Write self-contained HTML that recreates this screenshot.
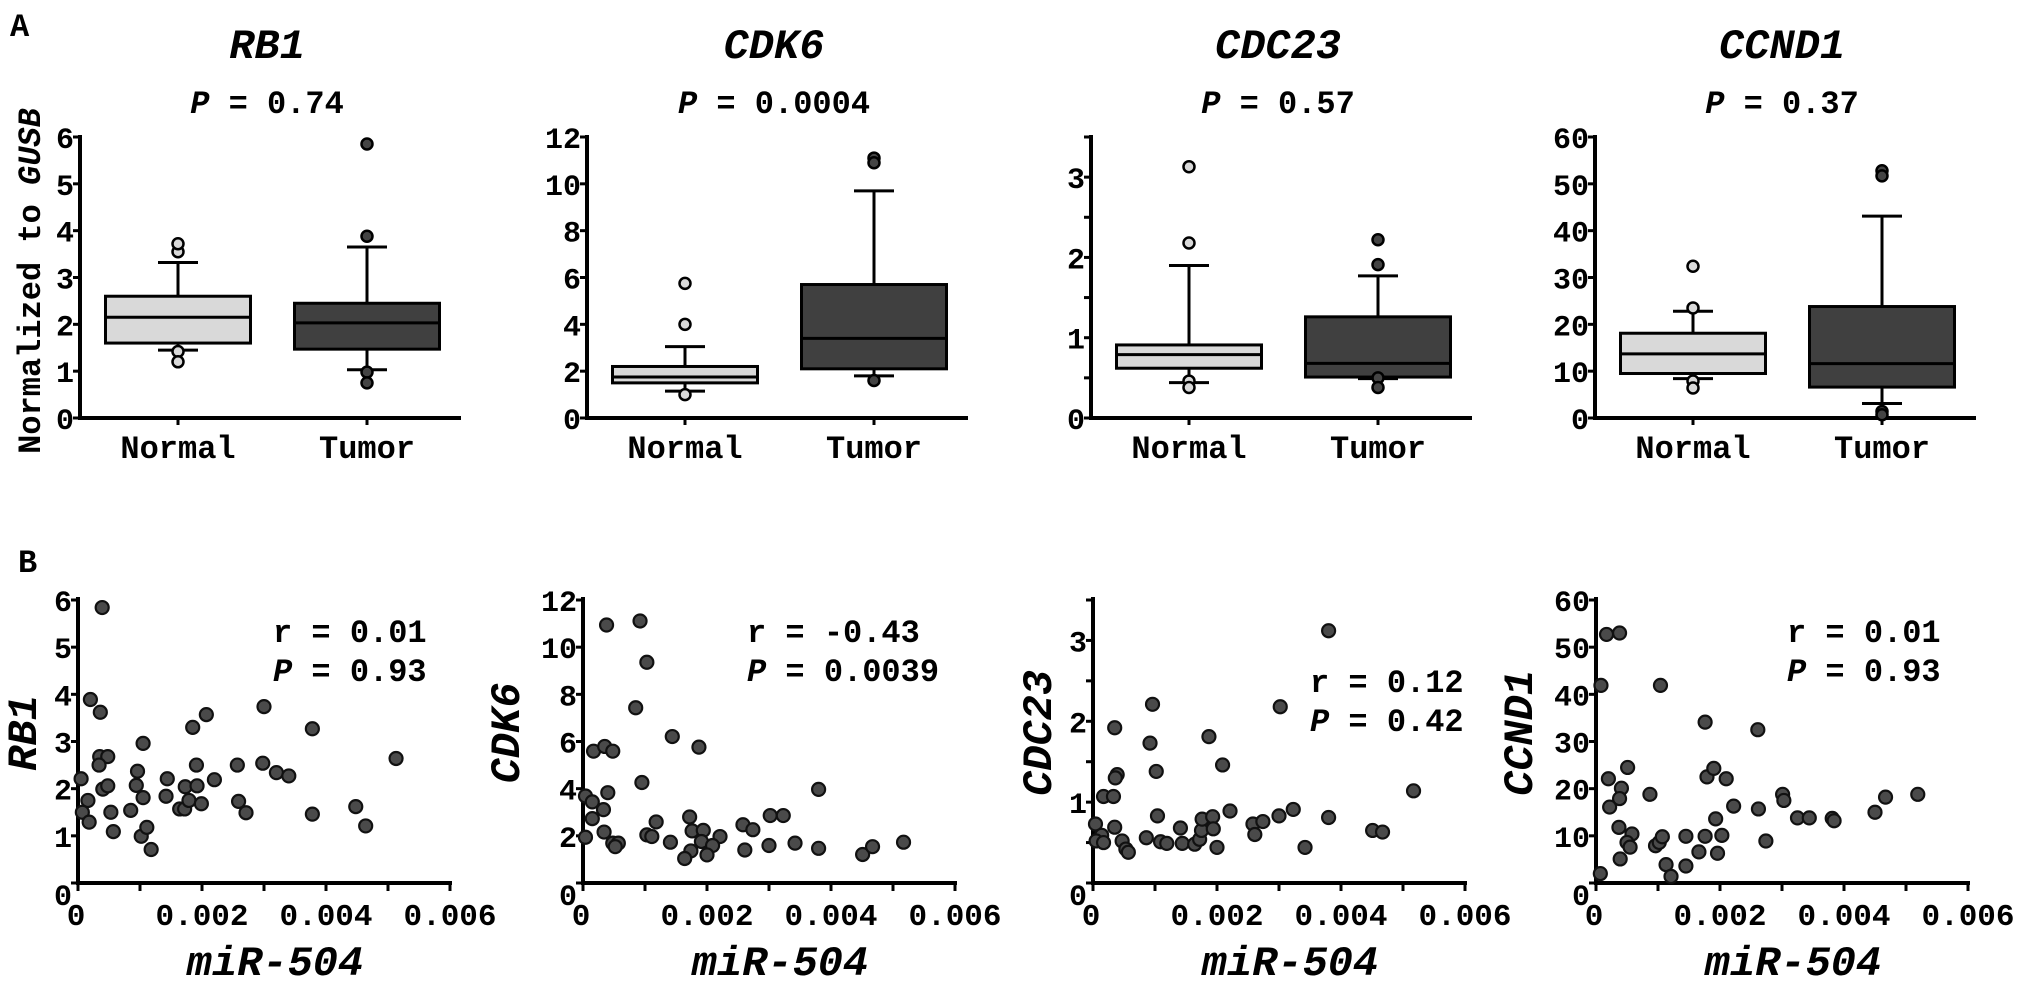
<!DOCTYPE html>
<html><head><meta charset="utf-8"><style>
html,body{margin:0;padding:0;background:#fff;}
svg{display:block;}
text{font-family:"Liberation Mono","DejaVu Sans Mono",monospace;font-weight:bold;fill:#000;}
</style></head><body>
<svg id="fig" width="2031" height="992" viewBox="0 0 2031 992" xmlns="http://www.w3.org/2000/svg">
<text x="10" y="36" font-size="32">A</text>
<text x="18" y="572" font-size="32">B</text>
</svg>
<script>
const genes = ["RB1","CDK6","CDC23","CCND1"];
const boxP = ["0.74","0.0004","0.57","0.37"];
const yMaxA = [6,12,3.5,60];
const yTicksA = [[0,1,2,3,4,5,6],[0,2,4,6,8,10,12],[0,1,2,3],[0,10,20,30,40,50,60]];
const yMinorA = [[],[],[0.5,1.5,2.5,3.5],[]];
const normalQ1 = [1.6,1.5,0.62,9.5];
const normalMed = [2.15,1.75,0.79,13.7];
const normalQ3 = [2.6,2.2,0.91,18.1];
const normalLo = [1.45,1.15,0.44,8.4];
const normalHi = [3.32,3.05,1.9,22.8];
const normalOut = [[3.55,3.72,1.42,1.2],[5.75,4.0,1.0],[3.13,2.18,0.46,0.38],[32.4,23.5,7.9,6.4]];
const tumorQ1 = [1.47,2.1,0.51,6.6];
const tumorMed = [2.03,3.4,0.68,11.6];
const tumorQ3 = [2.45,5.7,1.26,23.8];
const tumorLo = [1.03,1.8,0.49,3.1];
const tumorHi = [3.65,9.7,1.77,43.1];
const tumorOut = [[5.85,3.88,0.98,0.75],[11.1,10.9,1.6],[2.22,1.91,0.5,0.38],[52.8,51.7,1.4,0.7]];

const xTicksB = [0,0.001,0.002,0.003,0.004,0.005,0.006];
const xTickLabelsB = ["0","","0.002","","0.004","","0.006"];
const yMaxB = [6,12,3.5,60];
const yTicksB = yTicksA;
const corrR = ["0.01","-0.43","0.12","0.01"];
const corrP = ["0.93","0.0039","0.42","0.93"];
const rb1X = [.00039,.0002,.00036,.00035,.00048,.00034,.00005,.0004,.00048,.00016,.00007,.00018,.00053,.00057,.00085,.00094,.00096,.00105,.00105,.00102,.00111,.00118,.00144,.00142,.00164,.00172,.00173,.00179,.00191,.00192,.00199,.00185,.00207,.0022,.00257,.00259,.00271,.00298,.003,.0032,.0034,.00378,.00378,.00448,.00464,.00513];
const rb1Y = [5.84,3.89,3.62,2.68,2.68,2.5,2.21,1.99,2.06,1.75,1.5,1.29,1.5,1.09,1.54,2.07,2.37,2.96,1.81,0.99,1.18,0.71,2.21,1.84,1.57,1.57,2.04,1.75,2.5,2.06,1.68,3.3,3.57,2.19,2.5,1.73,1.49,2.54,3.74,2.34,2.27,3.27,1.46,1.62,1.21,2.64];
const cdk6X = [.00038,.00092,.00103,.00085,.00144,.00187,.00017,.00035,.00048,.00095,.00004,.00015,.0004,.00033,.00015,.00034,.00004,.00048,.00057,.00052,.00103,.00111,.00118,.00141,.00172,.00176,.00194,.00191,.00221,.00209,.00174,.00164,.002,.00258,.00274,.00261,.00302,.00323,.003,.00342,.0038,.0038,.00451,.00467,.00517];
const cdk6Y = [10.94,11.11,9.36,7.43,6.21,5.76,5.59,5.79,5.59,4.26,3.69,3.44,3.83,3.11,2.73,2.16,1.94,1.69,1.69,1.54,2.04,1.97,2.59,1.73,2.8,2.21,2.23,1.76,1.97,1.59,1.36,1.04,1.19,2.47,2.26,1.4,2.86,2.86,1.59,1.69,3.97,1.47,1.21,1.54,1.73];
const cdc23X = [.0038,.00302,.00096,.00035,.00187,.00092,.00209,.00102,.00039,.00036,.00017,.00033,.00004,.00014,.00005,.00017,.00035,.00047,.00053,.00057,.00086,.00104,.00109,.00119,.00141,.00144,.00164,.00172,.00175,.00176,.00193,.00194,.002,.00221,.00258,.00261,.00274,.003,.00323,.00342,.0038,.00517,.00451,.00467];
const cdc23Y = [3.12,2.18,2.21,1.92,1.81,1.73,1.46,1.38,1.34,1.3,1.07,1.07,0.73,0.59,0.52,0.5,0.69,0.52,0.42,0.38,0.56,0.83,0.51,0.49,0.68,0.49,0.48,0.54,0.65,0.79,0.82,0.67,0.44,0.89,0.73,0.6,0.76,0.83,0.91,0.44,0.81,1.14,0.65,0.63];
const ccnd1X = [.00017,.00038,.00008,.00104,.00176,.00261,.00051,.0002,.00041,.00038,.00022,.00087,.00179,.0019,.0021,.00222,.00193,.00262,.00301,.00303,.00325,.00344,.00381,.00384,.0045,.00467,.00519,.00037,.00058,.0005,.00055,.00039,.00007,.00096,.00102,.00107,.00113,.00121,.00145,.00145,.00166,.00176,.00196,.00203,.00274];
const ccnd1Y = [52.7,53,41.9,41.9,34.1,32.5,24.5,22.1,20.1,17.9,16.1,18.8,22.5,24.3,22.1,16.3,13.6,15.7,18.8,17.5,13.8,13.8,13.7,13.2,15,18.2,18.8,11.8,10.4,8.6,7.6,5.1,2,7.9,8.6,9.8,3.9,1.4,9.9,3.6,6.6,9.9,6.3,10.1,8.9];
const scatterX = [rb1X,cdk6X,cdc23X,ccnd1X];
const scatterY = [rb1Y,cdk6Y,cdc23Y,ccnd1Y];

const NS = "http://www.w3.org/2000/svg";
const svg = document.getElementById("fig");
function mk(tag, attrs, parent, txt){
  const e = document.createElementNS(NS, tag);
  for (const k in attrs) e.setAttribute(k, attrs[k]);
  if (txt !== undefined) e.textContent = txt;
  (parent||svg).appendChild(e);
  return e;
}
const axA = [80,587,1091,1595];
const axB = [78,583,1093,1596];
const A_BOT = 418, A_H = 281;
const B_BOT = 883, B_H = 283;

for (let i=0;i<4;i++){
  const g = mk("g",{});
  
  
  const ax = axA[i];
  const yS = v => A_BOT - v / yMaxA[i] * A_H;
  const t = mk("text",{x:ax+187,y:58,"text-anchor":"middle","font-size":42,"font-style":"italic"},g,genes[i]);
  
  
  const pt = mk("text",{x:ax+187,y:113,"text-anchor":"middle","font-size":32},g);
  
  
  mk("tspan",{"font-style":"italic"},pt,"P");
  mk("tspan",{},pt," = "+boxP[i]);
  const ya = mk("line",{x1:ax,y1:yS(yMaxA[i])-2,x2:ax,y2:A_BOT+2,stroke:"#000","stroke-width":4},g);
  
  
  const xa = mk("line",{x1:ax-2,y1:A_BOT,x2:ax+381,y2:A_BOT,stroke:"#000","stroke-width":4},g);
  
  
  yTicksA[i].forEach(v=>{
    mk("line",{x1:ax-7,y1:yS(v),x2:ax,y2:yS(v),stroke:"#000","stroke-width":3},g);
    const tl = mk("text",{x:ax-6,y:yS(v)+11,"text-anchor":"end","font-size":30},g,String(v));
    
    
  });
  yMinorA[i].forEach(v=>{ mk("line",{x1:ax-7,y1:yS(v),x2:ax,y2:yS(v),stroke:"#000","stroke-width":3},g); });
  const groups = [
    {name:"normal",c:ax+98,fill:"#d9d9d9",oFill:"#d9d9d9",q1:normalQ1[i],med:normalMed[i],q3:normalQ3[i],lo:normalLo[i],hi:normalHi[i],out:normalOut[i],label:"Normal"},
    {name:"tumor",c:ax+287,fill:"#404040",oFill:"#444",q1:tumorQ1[i],med:tumorMed[i],q3:tumorQ3[i],lo:tumorLo[i],hi:tumorHi[i],out:tumorOut[i],label:"Tumor"}
  ];
  groups.forEach(gr=>{
    const bw = 145;
    mk("line",{x1:gr.c,y1:A_BOT,x2:gr.c,y2:A_BOT+7,stroke:"#000","stroke-width":3},g);
    mk("line",{x1:gr.c,y1:yS(gr.hi),x2:gr.c,y2:yS(gr.q3),stroke:"#000","stroke-width":3},g);
    mk("line",{x1:gr.c,y1:yS(gr.lo),x2:gr.c,y2:yS(gr.q1),stroke:"#000","stroke-width":3},g);
    mk("line",{x1:gr.c-20,y1:yS(gr.hi),x2:gr.c+20,y2:yS(gr.hi),stroke:"#000","stroke-width":3},g);
    mk("line",{x1:gr.c-20,y1:yS(gr.lo),x2:gr.c+20,y2:yS(gr.lo),stroke:"#000","stroke-width":3},g);
    const box = mk("rect",{x:gr.c-bw/2,y:yS(gr.q3),width:bw,height:yS(gr.q1)-yS(gr.q3),fill:gr.fill,stroke:"#000","stroke-width":3},g);
    
    
    mk("line",{x1:gr.c-bw/2,y1:yS(gr.med),x2:gr.c+bw/2,y2:yS(gr.med),stroke:"#000","stroke-width":3},g);
    gr.out.forEach(v=>{
      const o = mk("circle",{cx:gr.c,cy:yS(v),r:5.5,fill:gr.oFill,stroke:"#000","stroke-width":2.5},g);
      
      
    });
    const cl = mk("text",{x:gr.c,y:458,"text-anchor":"middle","font-size":32},g,gr.label);
    
    
  });
  if (i===0){
    const yl = mk("text",{x:0,y:0,"text-anchor":"middle","font-size":32,transform:"translate(40,281) rotate(-90)"},g);
    
    
    mk("tspan",{},yl,"Normalized to ");
    mk("tspan",{"font-style":"italic"},yl,"GUSB");
  }
}

const rOff = [195,164,217,191];
const rBase = [642,642,692,642];
const yTitleOff = [42,64,42,64];
for (let i=0;i<4;i++){
  const g = mk("g",{});
  
  
  const ax = axB[i];
  const xS = v => ax + v / 0.006 * 372;
  const yS = v => B_BOT - v / yMaxB[i] * B_H;
  const ya = mk("line",{x1:ax,y1:B_BOT-B_H-3,x2:ax,y2:B_BOT+2,stroke:"#000","stroke-width":4},g);
  
  
  const xa = mk("line",{x1:ax-2,y1:B_BOT,x2:xS(0.006)+2,y2:B_BOT,stroke:"#000","stroke-width":4},g);
  
  
  xTicksB.forEach((v,k)=>{
    mk("line",{x1:xS(v),y1:B_BOT,x2:xS(v),y2:B_BOT+8,stroke:"#000","stroke-width":3},g);
    if (xTickLabelsB[k]) {
      const xl = mk("text",{x:xS(v)+(k===0?-2:0),y:925,"text-anchor":"middle","font-size":31},g,xTickLabelsB[k]);
      
      
    }
  });
  yTicksB[i].forEach(v=>{
    mk("line",{x1:ax-7,y1:yS(v),x2:ax,y2:yS(v),stroke:"#000","stroke-width":3},g);
    const tl = mk("text",{x:ax-6,y:yS(v)+(v===0?22:11),"text-anchor":"end","font-size":30},g,String(v));
    
    
  });
  yMinorA[i].forEach(v=>{ mk("line",{x1:ax-7,y1:yS(v),x2:ax,y2:yS(v),stroke:"#000","stroke-width":3},g); });
  scatterX[i].forEach((xv,k)=>{
    const c = mk("circle",{cx:xS(xv),cy:yS(scatterY[i][k]),r:6.5,fill:"#4a4a4a",stroke:"#111","stroke-width":2.2},g);
    
    
  });
  const rt = mk("text",{x:ax+rOff[i],y:rBase[i],"font-size":32},g,"r = "+corrR[i]);
  
  
  const pt = mk("text",{x:ax+rOff[i],y:rBase[i]+39,"font-size":32},g);
  
  
  mk("tspan",{"font-style":"italic"},pt,"P");
  mk("tspan",{},pt," = "+corrP[i]);
  const xt = mk("text",{x:ax+197,y:975,"text-anchor":"middle","font-size":42,"font-style":"italic"},g,"miR-504");
  
  
  const yt = mk("text",{x:0,y:0,"text-anchor":"middle","font-size":42,"font-style":"italic",transform:"translate("+(ax-yTitleOff[i])+",733) rotate(-90)"},g,genes[i]);
  
  
}
</script>
</body></html>
